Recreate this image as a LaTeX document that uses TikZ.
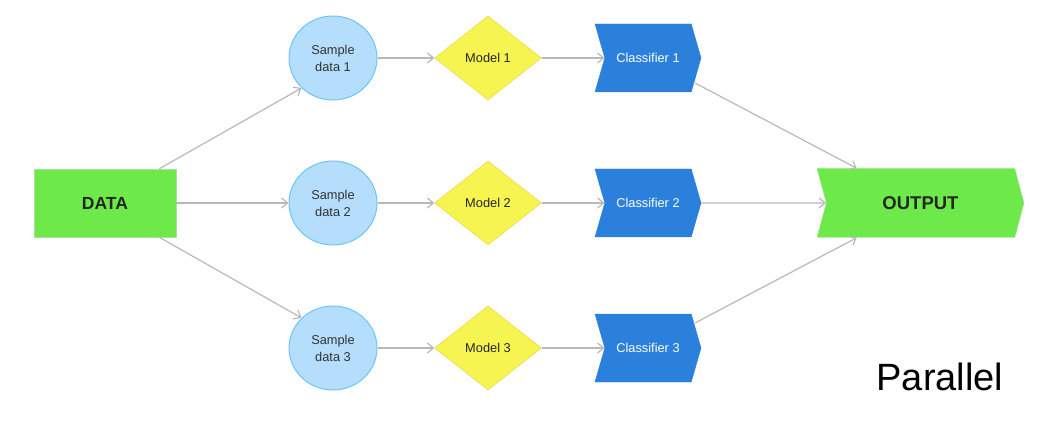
\documentclass[tikz,border=0pt]{standalone}
\usepackage{fontspec}
\setmainfont{Liberation Sans}
\usetikzlibrary{arrows.meta,shapes.geometric,shapes.symbols}

\definecolor{datagreen}{RGB}{109,234,74}
\definecolor{greenline}{RGB}{170,225,160}
\definecolor{samplefill}{RGB}{180,222,252}
\definecolor{sampleline}{RGB}{110,196,245}
\definecolor{modelfill}{RGB}{246,244,80}
\definecolor{modelline}{RGB}{228,212,70}
\definecolor{clsblue}{RGB}{43,128,220}
\definecolor{flowgray}{RGB}{184,184,184}

\tikzset{
  databox/.style={rectangle,fill=datagreen,draw=greenline,minimum width=142pt,minimum height=68pt,font=\fontsize{17.5}{20}\selectfont\bfseries,text=black!85},
  samplenode/.style={ellipse,fill=samplefill,draw=sampleline,line width=1pt,minimum width=88pt,minimum height=84pt,align=center,font=\fontsize{12.8}{17}\selectfont,text=black!80},
  modelnode/.style={diamond,fill=modelfill,draw=modelline,minimum width=107pt,minimum height=84pt,font=\fontsize{12.8}{15}\selectfont,text=black!85},
  clsnode/.style={signal,signal from=west,signal to=east,signal pointer angle=148,fill=clsblue,draw=clsblue,minimum width=106pt,minimum height=68pt,font=\fontsize{12.8}{15}\selectfont,text=white},
  outnode/.style={signal,signal from=west,signal to=east,signal pointer angle=150,fill=datagreen,draw=greenline,minimum width=207pt,minimum height=69pt,font=\fontsize{18.5}{20}\selectfont\bfseries,text=black!85},
  flow/.style={-{Straight Barb[length=6pt,width=10pt]},draw=flowgray,line width=1.2pt}
}

\begin{document}
\begin{tikzpicture}[x=1pt,y=-1pt]
\useasboundingbox (0,0) rectangle (1056,435);

% Input and output
\node[databox] (data) at (105,203) {DATA};
\node[outnode] (output) at (920.5,203) {OUTPUT};

% Three parallel branches
\foreach \i/\y in {1/58,2/203,3/348}{
  \node[samplenode] (sample\i) at (333,\y) {Sample\\data \i};
  \node[modelnode] (model\i) at (488,\y) {Model \i};
  \node[clsnode] (cls\i) at (648,\y) {Classifier \i};
  \draw[flow] (sample\i) -- (model\i);
  \draw[flow] (model\i) -- (cls\i.west);
}

% Connectors in and out
\draw[flow] ([xshift=-17pt]data.north east) -- (sample1.south west);
\draw[flow] (data) -- (sample2);
\draw[flow] ([xshift=-17pt]data.south east) -- (sample3.north west);
\draw[flow] ([shift={(47,25)}]cls1.center) -- ([xshift=40pt]output.north west);
\draw[flow] (cls2) -- (output.west);
\draw[flow] ([shift={(47,-25)}]cls3.center) -- ([xshift=40pt]output.south west);

\node[font=\fontsize{38}{40}\selectfont] (label) at (940,377) {Parallel};
\end{tikzpicture}
\end{document}
